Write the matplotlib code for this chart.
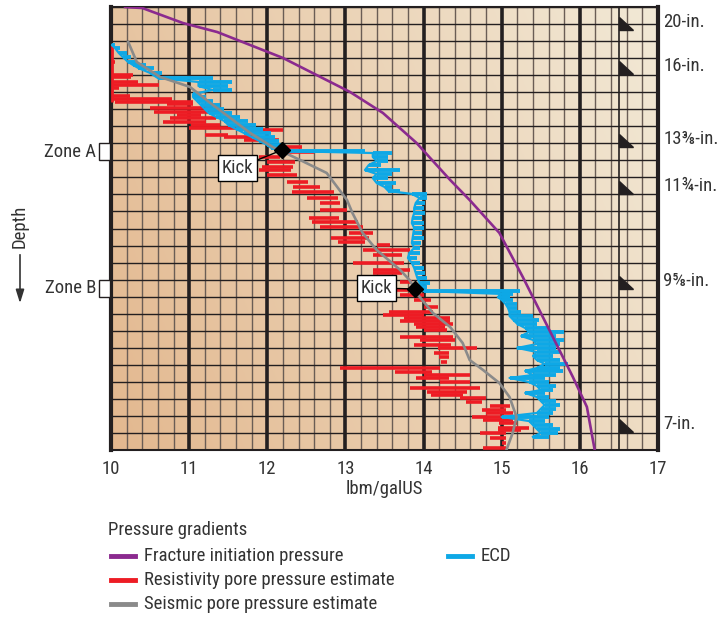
import numpy as np
import matplotlib.pyplot as plt
from matplotlib import font_manager
from matplotlib.patches import Rectangle, Polygon
from matplotlib.lines import Line2D

# pick a narrow sans if one is installed
installed = {f.name for f in font_manager.fontManager.ttflist}
narrow = [n for n in ['Liberation Sans Narrow', 'Noto Sans Condensed', 'DejaVu Sans Condensed',
                      'Roboto Condensed', 'Open Sans Condensed'] if n in installed]
if narrow:
    plt.rcParams['font.family'] = [narrow[0], 'DejaVu Sans']
elif any(f.name == 'DejaVu Sans' and f.stretch == 'condensed' for f in font_manager.fontManager.ttflist):
    plt.rcParams['font.family'] = ['DejaVu Sans']
    plt.rcParams['font.stretch'] = 'condensed'
else:
    plt.rcParams['font.family'] = ['Liberation Sans', 'DejaVu Sans']

# depth is in grid rows (0 = top of log, 26 = bottom), gradients in lbm/galUS
frac_x = [10.18, 10.40, 10.92, 11.36, 11.78, 12.20, 12.63, 13.06, 13.48, 13.91,
          14.34, 14.59, 14.97, 15.27, 15.61, 15.91, 16.09, 16.19]
frac_d = [0.0, 0.06, 0.94, 1.47, 2.23, 2.99, 3.99, 4.99, 6.22, 7.98,
          10.15, 11.33, 13.26, 15.85, 18.96, 21.71, 23.47, 26.0]

seis_x = [10.22, 10.33, 10.63, 11.01, 11.27, 11.56, 11.78, 12.07, 12.42, 12.76,
          13.02, 13.09, 13.22, 13.40, 13.70, 13.82, 13.95, 14.12, 14.34, 14.50,
          14.59, 14.76, 14.97, 15.10, 15.19, 15.14, 15.06]
seis_d = [2.05, 3.23, 4.11, 4.69, 5.63, 6.63, 7.39, 8.22, 8.98, 9.74,
          11.33, 12.09, 13.26, 14.26, 15.43, 16.02, 17.02, 17.96, 18.78, 19.72,
          20.72, 21.30, 22.07, 22.89, 24.06, 25.0, 26.0]

# resistivity pore pressure: horizontal log excursions
red_d = [2.25, 3.2, 4.0, 4.1, 4.4, 4.58, 4.75, 5.2, 5.4, 5.55,
         5.7, 5.93, 6.16, 6.34, 6.51, 6.75, 6.92, 7.10, 7.22, 7.51,
         7.63, 7.8, 8.22, 8.51, 8.80, 9.1, 9.39, 9.57, 9.86, 10.27,
         10.56, 10.86, 11.21, 11.50, 11.91, 12.38, 12.62, 12.91, 13.26, 13.56,
         13.79, 13.97, 14.26, 14.55, 15.02, 15.43, 15.61, 16.14, 16.61, 16.90,
         17.19, 17.61, 17.90, 18.08, 18.25, 18.45, 18.6, 18.78, 18.96, 19.37,
         19.54, 19.84, 20.01, 20.31, 20.54, 20.83, 21.19, 21.42, 21.60, 21.77,
         22.01, 22.36, 22.59, 22.77, 22.95, 23.18, 23.42, 23.65, 23.83, 24.06,
         24.24, 24.41, 24.71, 24.82, 25.0, 25.29, 25.59, 25.88]
red_lo = [10.01, 10.01, 10.01, 10.01, 10.01, 10.01, 10.01, 10.01, 10.01, 10.05,
          10.72, 10.50, 10.55, 10.85, 10.75, 10.66, 11.03, 11.00, 11.78, 11.20,
          11.45, 11.70, 12.10, 12.23, 11.90, 12.00, 11.93, 11.90, 11.99, 12.25,
          12.33, 12.32, 12.51, 12.67, 12.67, 12.54, 12.57, 12.67, 13.05, 12.82,
          12.90, 13.40, 13.22, 13.35, 13.10, 13.35, 13.35, 13.70, 13.66, 13.70,
          13.88, 14.00, 13.56, 13.48, 13.75, 13.70, 13.88, 13.90, 14.00, 13.70,
          13.95, 13.88, 14.18, 14.13, 14.20, 14.22, 12.93, 13.63, 14.00, 13.90,
          14.21, 13.83, 14.05, 14.10, 14.46, 14.54, 14.85, 14.75, 14.80, 14.62,
          14.76, 14.97, 14.95, 14.95, 14.72, 14.85, 15.00, 14.76]
red_hi = [10.03, 10.05, 10.28, 10.25, 10.35, 10.62, 10.10, 10.24, 10.78, 11.05,
          11.05, 11.30, 11.40, 11.15, 11.35, 11.22, 11.40, 11.78, 12.20, 11.50,
          11.90, 12.15, 12.45, 12.60, 12.16, 12.35, 12.33, 12.30, 12.38, 12.52,
          12.67, 12.86, 12.90, 12.93, 13.02, 12.92, 13.16, 13.22, 13.35, 13.30,
          13.25, 13.57, 13.82, 13.73, 13.75, 13.82, 13.72, 13.85, 13.95, 14.00,
          14.10, 14.18, 14.12, 14.00, 14.34, 14.34, 14.38, 14.28, 14.30, 14.38,
          14.40, 14.35, 14.68, 14.33, 14.32, 14.30, 14.21, 14.11, 14.59, 14.33,
          14.59, 14.72, 14.55, 14.50, 14.80, 14.75, 15.10, 15.05, 15.15, 15.00,
          15.15, 15.20, 15.35, 15.25, 15.05, 15.05, 15.05, 15.05]

# ECD log
ecd_d = [2.23, 2.40, 2.70, 2.93, 3.23, 3.40, 3.58, 3.87, 4.17, 4.40,
         4.64, 4.87, 5.11, 5.28, 5.52, 5.75, 5.99, 6.22, 6.46, 6.69,
         6.92, 7.16, 7.39, 7.63, 7.86, 8.10, 8.27, 8.45, 8.57, 8.80,
         9.04, 9.27, 9.57, 9.80, 10.04, 10.33, 10.56, 10.80, 10.97, 11.21,
         11.50, 11.80, 12.09, 12.38, 12.68, 12.97, 13.26, 13.56, 13.85, 14.14,
         14.44, 14.73, 15.02, 15.32, 15.61, 15.90, 16.20, 16.43, 16.67, 16.84,
         17.02, 17.19, 17.43, 17.66, 17.90, 18.13, 18.37, 18.60, 18.84, 19.07,
         19.31, 19.54, 19.78, 20.01, 20.25, 20.48, 20.72, 20.95, 21.19, 21.36,
         21.60, 21.77, 22.01, 22.24, 22.48, 22.65, 22.89, 23.12, 23.36, 23.59,
         23.83, 24.06, 24.30, 24.53, 24.77, 25.00, 25.23]
ecd_lo = [10.01, 10.05, 10.10, 10.15, 10.22, 10.28, 10.35, 10.50, 10.60, 11.12,
          11.12, 11.30, 11.05, 11.05, 11.10, 11.15, 11.20, 11.25, 11.35, 11.45,
          11.50, 11.60, 11.70, 11.80, 11.90, 12.00, 12.05, 12.20, 13.35, 13.35,
          13.40, 13.30, 13.25, 13.40, 13.35, 13.40, 13.50, 13.55, 13.85, 13.95,
          13.90, 13.88, 13.88, 13.86, 13.85, 13.88, 13.87, 13.86, 13.85, 13.88,
          13.82, 13.80, 13.85, 13.88, 13.90, 13.92, 13.95, 13.98, 14.00, 15.00,
          14.95, 15.00, 15.05, 15.08, 15.10, 15.10, 15.15, 15.20, 15.30, 15.35,
          15.25, 15.40, 15.45, 15.20, 15.45, 15.40, 15.45, 15.55, 15.45, 15.30,
          15.40, 15.10, 15.35, 15.45, 15.50, 15.30, 15.45, 15.50, 15.55, 15.50,
          15.45, 15.00, 15.35, 15.40, 15.45, 15.50, 15.40]
ecd_hi = [10.05, 10.12, 10.20, 10.25, 10.33, 10.45, 10.55, 10.65, 11.30, 11.55,
          11.50, 11.55, 11.15, 11.22, 11.30, 11.40, 11.45, 11.55, 11.65, 11.75,
          11.85, 11.95, 12.05, 12.10, 12.15, 12.20, 12.25, 13.25, 13.60, 13.55,
          13.55, 13.45, 13.70, 13.60, 13.55, 13.65, 13.60, 13.70, 14.05, 14.05,
          14.02, 14.00, 14.02, 13.98, 14.00, 14.00, 13.98, 14.00, 13.97, 13.96,
          13.95, 13.92, 13.95, 14.00, 14.02, 14.05, 14.08, 14.05, 15.23, 15.15,
          15.10, 15.15, 15.20, 15.20, 15.25, 15.40, 15.48, 15.45, 15.60, 15.80,
          15.70, 15.80, 15.75, 15.70, 15.75, 15.65, 15.75, 15.85, 15.75, 15.78,
          15.70, 15.55, 15.60, 15.70, 15.65, 15.55, 15.60, 15.70, 15.75, 15.70,
          15.65, 15.60, 15.55, 15.65, 15.75, 15.72, 15.60]

kick_x = [12.19, 13.89]
kick_d = [8.39, 16.55]
kick_label_x = [11.62, 13.40]
kick_label_d = [9.45, 16.49]

casing_labels = ['20-in.', '16-in.', '13⅜-in.', '11¾-in.', '9⅝-in.', '7-in.']
casing_d = [1.35, 3.93, 8.22, 10.97, 16.55, 24.94]

zone_labels = ['Zone A', 'Zone B']
zone_d = [8, 16]

PURPLE = '#8b2a8f'
RED = '#ed1c24'
BLUE = '#0ea8e6'
GRAY = '#8a8a8a'
DARK = '#231f20'
TXT = '#333333'
FS = 13.5

fig = plt.figure(figsize=(7.25, 6.2), dpi=100)
ax = fig.add_axes([111 / 725, 1 - 450 / 620, 547 / 725, 443 / 620])

# paper background, darker at lower left
U, V = np.meshgrid(np.linspace(0, 1, 200), np.linspace(0, 1, 200))
t = np.clip(0.75 * U + 0.25 * (1 - V), 0, 1)
c0 = np.array([227, 184, 143]) / 255
c1 = np.array([242, 233, 214]) / 255
ax.imshow(c0 + (c1 - c0) * t[..., None], extent=(10, 17, 26, 0), aspect='auto', zorder=0)

# log grid
minor = [x for x in np.arange(10, 17.001, 0.2) if abs(x - round(x)) > 0.01]
ax.vlines(minor, 0, 26, color='#6a5d55', lw=1.0, zorder=1)
ax.vlines(range(10, 18), 0, 26, color=DARK, lw=2.6, zorder=1)
ax.hlines(range(0, 27), 10, 17, color=DARK, lw=1.0, zorder=1)
ax.vlines(16.5, 0, 26, color=DARK, lw=1.2, zorder=1)

# curves
ax.plot(frac_x, frac_d, color=PURPLE, lw=1.9, zorder=4)
ax.hlines(red_d, red_lo, red_hi, color=RED, lw=2.6, zorder=3)
ax.vlines(10.01, 2.2, 5.6, color=RED, lw=2.0, zorder=3)
ax.hlines(ecd_d, ecd_lo, ecd_hi, color=BLUE, lw=2.8, zorder=3)
ax.plot(ecd_lo, ecd_d, color=BLUE, lw=1.6, zorder=3)
ax.plot(seis_x, seis_d, color=GRAY, lw=1.9, zorder=4)

# kicks
ax.plot(kick_x, kick_d, 'D', color='black', ms=8, zorder=6)
for kx, kd, lx, ld in zip(kick_x, kick_d, kick_label_x, kick_label_d):
    ax.annotate('Kick', xy=(kx, kd), xytext=(lx, ld), ha='center', va='center',
                fontsize=FS, color=TXT, zorder=7,
                bbox=dict(boxstyle='square,pad=0.2', fc='white', ec='black', lw=1),
                arrowprops=dict(arrowstyle='-', color='black', lw=1, shrinkA=0, shrinkB=0))

# casing shoes
for lab, d in zip(casing_labels, casing_d):
    ax.add_patch(Polygon([(16.5, d - 0.78), (16.5, d), (16.68, d)], closed=True,
                         color=DARK, zorder=5))
    ax.text(17.07, d - 0.45, lab, fontsize=FS, color=TXT, va='center', ha='left',
            clip_on=False)

# zones
for lab, d in zip(zone_labels, zone_d):
    ax.add_patch(Rectangle((9.845, d), 0.14, 1, fc='white', ec=DARK, lw=1,
                           clip_on=False, zorder=5))
    ax.text(9.81, d + 0.5, lab, fontsize=FS, color=TXT, ha='right', va='center',
            clip_on=False)

ax.set_xlim(10, 17)
ax.set_ylim(26, 0)
ax.set_xticks(range(10, 18))
ax.set_yticks([])
ax.tick_params(axis='x', length=0, pad=7, labelsize=FS, labelcolor=TXT)
ax.set_xlabel('lbm/galUS', fontsize=FS, color=TXT, labelpad=2)
for side in ['left', 'right']:
    ax.spines[side].set_linewidth(3)
    ax.spines[side].set_color(DARK)
for side in ['top', 'bottom']:
    ax.spines[side].set_linewidth(1.5)
    ax.spines[side].set_color(DARK)

# depth label with arrow
fig.text(20 / 725, 1 - 226 / 620, 'Depth', rotation=90, ha='center', va='center',
         fontsize=FS, color=TXT)
fig.add_artist(Line2D([20 / 725, 20 / 725], [1 - 255 / 620, 1 - 292 / 620],
                      color=TXT, lw=1.2))
ax.annotate('', xy=(20 / 725, 1 - 306 / 620), xytext=(20 / 725, 1 - 288 / 620),
            xycoords='figure fraction', textcoords='figure fraction',
            arrowprops=dict(arrowstyle='-|>,head_width=0.25,head_length=0.8',
                            color=TXT, lw=1.2))


# legend
def fx(px):
    return px / 725


def fy(py):
    return 1 - py / 620


fig.text(fx(108), fy(530), 'Pressure gradients', fontsize=FS, color=TXT, va='center')
legend_items = [('Fracture initiation pressure', PURPLE, 111, 556),
                ('Resistivity pore pressure estimate', RED, 111, 580),
                ('Seismic pore pressure estimate', GRAY, 111, 604),
                ('ECD', BLUE, 448, 556)]
for lab, col, px, py in legend_items:
    fig.add_artist(Line2D([fx(px), fx(px + 24)], [fy(py), fy(py)], color=col, lw=3.5))
    fig.text(fx(px + 33), fy(py), lab, fontsize=FS, color=TXT, va='center')

fig.savefig('out.png', dpi=100)
